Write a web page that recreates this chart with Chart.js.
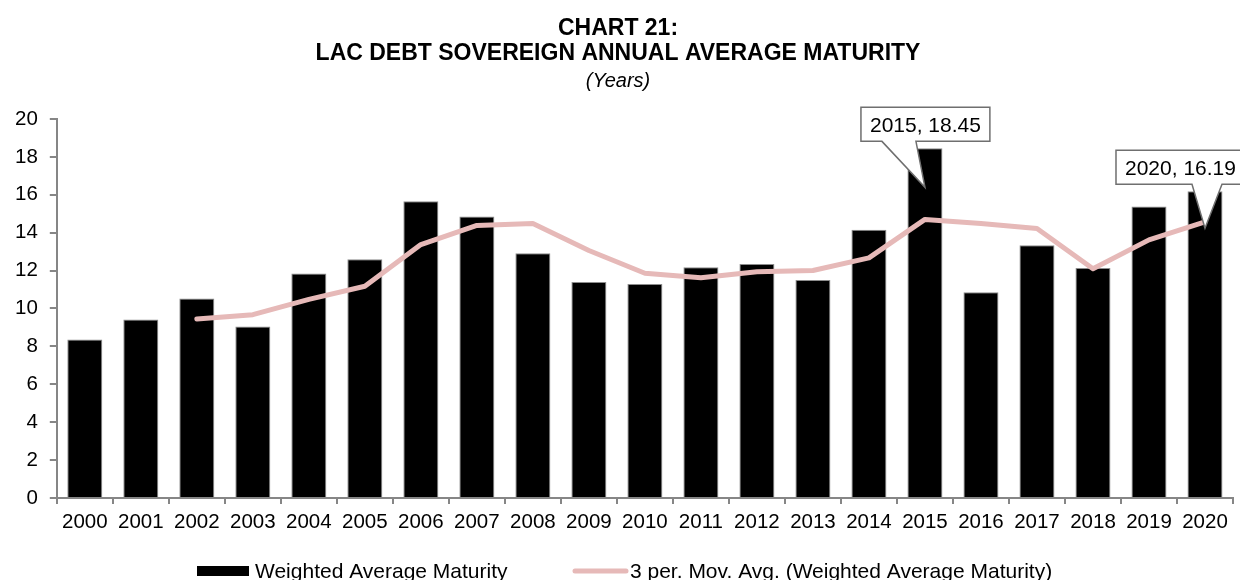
<!DOCTYPE html>
<html>
<head>
<meta charset="utf-8">
<title>Chart 21</title>
<script src="https://cdn.jsdelivr.net/npm/chart.js@4.4.1/dist/chart.umd.min.js"></script>
<style>
  html, body { margin: 0; padding: 0; background: #fff; }
  #wrap { width: 1240px; height: 580px; }
</style>
</head>
<body>
<div id="wrap"><canvas id="maturityChart"></canvas></div>
<script>
var years = ["2000", "2001", "2002", "2003", "2004", "2005", "2006", "2007", "2008", "2009", "2010",
  "2011", "2012", "2013", "2014", "2015", "2016", "2017", "2018", "2019", "2020"];
var weightedAvgMaturity = [8.36, 9.42, 10.53, 9.05, 11.85, 12.6, 15.66, 14.86, 12.91, 11.4, 11.29,
  12.17, 12.35, 11.5, 14.16, 18.45, 10.86, 13.33, 12.13, 15.38, 16.19];
var movingAvg3 = [null, null, 9.44, 9.67, 10.48, 11.17, 13.37, 14.38, 14.48, 13.06, 11.86,
  11.62, 11.94, 12.0, 12.67, 14.7, 14.49, 14.22, 12.1, 13.62, 14.57];
var yMin = 0;
var yMax = 20;
var yStep = 2;

var FONT = "'Liberation Sans', Arial, sans-serif";
var AXIS_GREY = "#868686";

// data callouts (Excel style) on selected bars
var callouts = [
  { index: 15, drop: 39, boxDx: -64, boxDy: -80, baseA: -43, baseB: -9 },
  { index: 20, drop: 37, boxDx: -89, boxDy: -78, baseA: -13, baseB: 17 }
];

var calloutPlugin = {
  id: "callouts",
  afterDatasetsDraw: function (chart) {
    var ctx = chart.ctx;
    var xs = chart.scales.x;
    var ys = chart.scales.y;
    ctx.save();
    ctx.font = "21px " + FONT;
    callouts.forEach(function (c) {
      var text = years[c.index] + ", " + weightedAvgMaturity[c.index].toFixed(2);
      var tipX = xs.getPixelForValue(c.index);
      var tipY = ys.getPixelForValue(weightedAvgMaturity[c.index]) + c.drop;
      var w = ctx.measureText(text).width + 18;
      var h = 34;
      var left = tipX + c.boxDx;
      var top = tipY + c.boxDy;
      var bottom = top + h;
      ctx.beginPath();
      ctx.moveTo(left, top);
      ctx.lineTo(left + w, top);
      ctx.lineTo(left + w, bottom);
      ctx.lineTo(tipX + c.baseB, bottom);
      ctx.lineTo(tipX, tipY);
      ctx.lineTo(tipX + c.baseA, bottom);
      ctx.lineTo(left, bottom);
      ctx.closePath();
      ctx.fillStyle = "#ffffff";
      ctx.fill();
      ctx.lineWidth = 1.5;
      ctx.strokeStyle = "#6f6f6f";
      ctx.stroke();
      ctx.fillStyle = "#000000";
      ctx.textAlign = "left";
      ctx.textBaseline = "alphabetic";
      ctx.fillText(text, left + 9, top + 25);
    });
    ctx.restore();
  }
};

// legend drawn by hand so the item spacing matches the original
var legendX = [197, 572];
var legendPlugin = {
  id: "bottomLegend",
  afterDraw: function (chart) {
    var ctx = chart.ctx;
    var cy = 571;
    ctx.save();
    ctx.font = "21px " + FONT;
    ctx.textBaseline = "alphabetic";
    ctx.textAlign = "left";
    chart.data.datasets.forEach(function (ds, i) {
      var x = legendX[i];
      if (ds.type === "line") {
        ctx.beginPath();
        ctx.moveTo(x + 3, cy);
        ctx.lineTo(x + 54, cy);
        ctx.lineWidth = ds.borderWidth;
        ctx.lineCap = "round";
        ctx.strokeStyle = ds.borderColor;
        ctx.stroke();
      } else {
        ctx.fillStyle = ds.backgroundColor;
        ctx.fillRect(x, cy - 5, 52, 10);
      }
      ctx.fillStyle = "#000000";
      ctx.fillText(ds.label, x + 58, 578);
    });
    ctx.restore();
  }
};

var ctxMaturity = document.getElementById("maturityChart").getContext("2d");
var maturityChart = new Chart(ctxMaturity, {
  type: "bar",
  data: {
    labels: years,
    datasets: [
      {
        type: "bar",
        label: "Weighted Average Maturity",
        data: weightedAvgMaturity,
        backgroundColor: "#000000",
        borderColor: "#8c8c8c",
        borderWidth: 1,
        barPercentage: 0.625,
        categoryPercentage: 1,
        order: 2
      },
      {
        type: "line",
        label: "3 per. Mov. Avg. (Weighted Average Maturity)",
        data: movingAvg3,
        borderColor: "#E6B9B8",
        backgroundColor: "#E6B9B8",
        borderWidth: 5,
        borderCapStyle: "round",
        borderJoinStyle: "round",
        pointRadius: 0,
        tension: 0,
        fill: false,
        order: 1
      }
    ]
  },
  plugins: [calloutPlugin, legendPlugin],
  options: {
    responsive: true,
    maintainAspectRatio: false,
    animation: false,
    layout: {
      padding: { left: 3, right: 7, top: 0, bottom: 39.5 }
    },
    scales: {
      x: {
        offset: true,
        grid: {
          offset: true,
          drawOnChartArea: false,
          drawTicks: true,
          tickLength: 6,
          color: AXIS_GREY,
          lineWidth: 2
        },
        border: { display: true, color: AXIS_GREY, width: 2 },
        ticks: {
          color: "#000000",
          font: { family: FONT, size: 20.5 },
          padding: 6,
          maxRotation: 0,
          autoSkip: false
        }
      },
      y: {
        min: yMin,
        max: yMax,
        grid: {
          drawOnChartArea: false,
          drawTicks: true,
          tickLength: 7,
          color: AXIS_GREY,
          lineWidth: 2
        },
        border: { display: true, color: AXIS_GREY, width: 2 },
        ticks: {
          stepSize: yStep,
          color: "#000000",
          font: { family: FONT, size: 20.5 },
          padding: 12
        }
      }
    },
    plugins: {
      legend: { display: false },
      tooltip: { enabled: false },
      title: {
        display: true,
        text: ["CHART 21:", "LAC DEBT SOVEREIGN ANNUAL AVERAGE MATURITY"],
        color: "#000000",
        font: { family: FONT, size: 23, weight: "bold", lineHeight: 1.087 },
        padding: { top: 16, bottom: 0 }
      },
      subtitle: {
        display: true,
        text: "(Years)",
        color: "#000000",
        font: { family: FONT, size: 20, style: "italic", lineHeight: 1.2 },
        padding: { top: 3, bottom: 26 }
      }
    }
  }
});
</script>
</body>
</html>
